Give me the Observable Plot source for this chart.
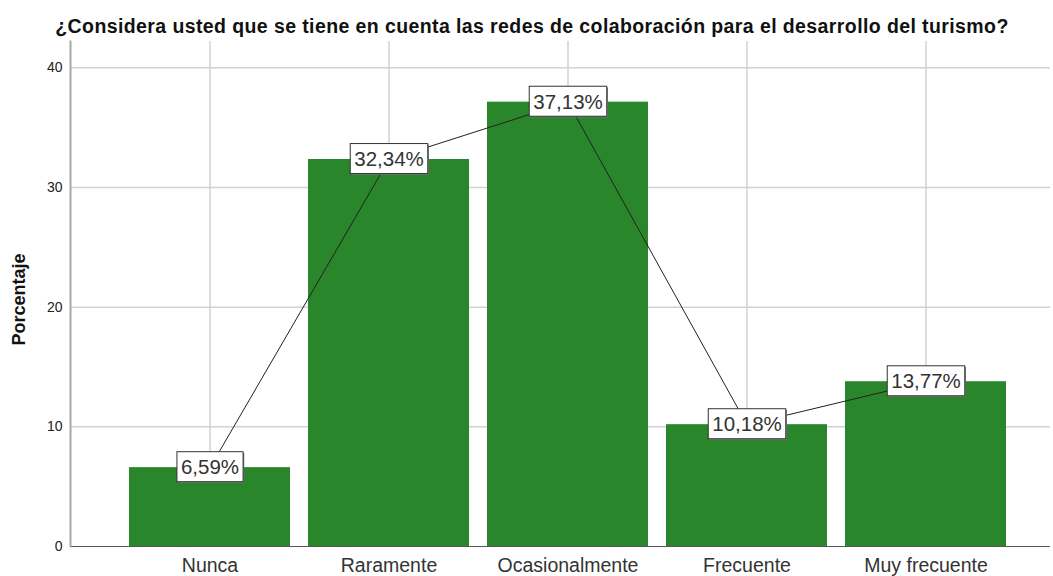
<!DOCTYPE html>
<html>
<head>
<meta charset="utf-8">
<script src="https://cdn.jsdelivr.net/npm/d3@7"></script>
<script src="https://cdn.jsdelivr.net/npm/@observablehq/plot@0.6"></script>
<style>
  html, body { margin: 0; padding: 0; background: #fff; }
</style>
</head>
<body>
<div id="chart"></div>
<script>
const title = "¿Considera usted que se tiene en cuenta las redes de colaboración para el desarrollo del turismo?";
const yLabel = "Porcentaje";
const categories = ["Nunca", "Raramente", "Ocasionalmente", "Frecuente", "Muy frecuente"];
const values = [6.59, 32.34, 37.13, 10.18, 13.77];
const valueLabels = ["6,59%", "32,34%", "37,13%", "10,18%", "13,77%"];
const yTicks = [0, 10, 20, 30, 40];

const data = categories.map((c, i) => ({cat: c, value: values[i], label: valueLabels[i]}));

const chart = Plot.plot({
  width: 1053,
  height: 576,
  marginTop: 41,
  marginBottom: 30,
  marginLeft: 70,
  marginRight: 3,
  style: {fontFamily: "'Liberation Sans', Arial, sans-serif", background: "#fff", color: "#222"},
  x: {domain: categories, range: [111, 1024], padding: 0.1, axis: null, label: null},
  y: {domain: [0, 42.2], axis: null, label: null},
  marks: [
    Plot.ruleY(yTicks.slice(1), {stroke: "#d2d2d2", strokeWidth: 1.5}),
    Plot.ruleX(categories, {x: d => d, stroke: "#d2d2d2", strokeWidth: 1.5}),
    Plot.barY(data, {x: "cat", y: "value", fill: "#2a862a"}),
    Plot.ruleY([0], {stroke: "#555", strokeWidth: 1}),
    Plot.frame({anchor: "left", stroke: "#a8a8a8", strokeWidth: 2}),
    Plot.axisY({ticks: yTicks, tickSize: 0, tickPadding: 8, fontSize: 14, label: null, tickFormat: d => String(d)}),
    Plot.axisX({tickSize: 0, tickPadding: 12, fontSize: 19.5, label: null, fill: "#333"}),
    Plot.line(data, {x: "cat", y: "value", stroke: "#222", strokeWidth: 1}),
    Plot.text(data, {x: "cat", y: "value", text: "label", fontSize: 20.5, fill: "#333"}),
    Plot.text([title], {frameAnchor: "top", dx: -28.5, dy: -22, fontWeight: "bold", fontSize: 19.5, fill: "#111"}),
    Plot.text([yLabel], {frameAnchor: "left", textAnchor: "middle", rotate: -90, dx: -51, dy: 5.5, fontWeight: "bold", fontSize: 18, fill: "#111"})
  ]
});

document.getElementById("chart").appendChild(chart);

const groups = chart.querySelectorAll("g[aria-label='text']");

// Slight letter spacing on the title to match the reference's wider face.
if (groups[1]) groups[1].querySelectorAll("text").forEach(t => t.setAttribute("letter-spacing", "0.4"));

// Draw a white box behind each value label, sized from the rendered text.
const labelGroup = groups[0];
if (labelGroup) {
  labelGroup.querySelectorAll("text").forEach(t => {
    const bb = t.getBBox();
    const padX = 4, h = 30;
    const cy = bb.y + bb.height / 2;
    const ns = "http://www.w3.org/2000/svg";
    const shadow = document.createElementNS(ns, "rect");
    const rect = document.createElementNS(ns, "rect");
    for (const [el, off] of [[shadow, 1.2], [rect, 0]]) {
      el.setAttribute("x", bb.x - padX + off);
      el.setAttribute("y", cy - h / 2 + off);
      el.setAttribute("width", bb.width + 2 * padX);
      el.setAttribute("height", h);
      const tr = t.getAttribute("transform");
      if (tr) el.setAttribute("transform", tr);
    }
    shadow.setAttribute("fill", "#777");
    shadow.setAttribute("stroke", "none");
    rect.setAttribute("fill", "#fff");
    rect.setAttribute("stroke", "#333");
    rect.setAttribute("stroke-width", "1");
    t.parentNode.insertBefore(shadow, t);
    t.parentNode.insertBefore(rect, t);
  });
}
</script>
</body>
</html>
